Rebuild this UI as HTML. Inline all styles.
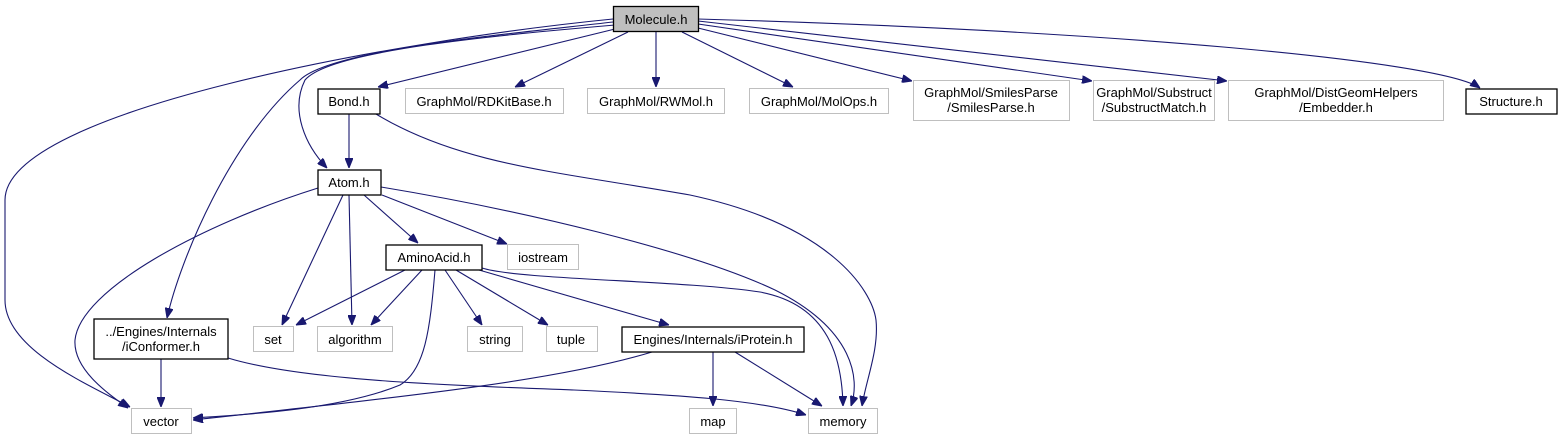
<!DOCTYPE html>
<html><head><meta charset="utf-8"><style>
html,body{margin:0;padding:0;background:#fff;}
svg{display:block;}
text{font-family:"Liberation Sans",sans-serif;font-size:13px;fill:#000;text-anchor:middle;}
.b{fill:#fff;stroke:#000;stroke-width:1.3;}
.g{fill:#fff;stroke:#bfbfbf;stroke-width:1;}
.e{fill:none;stroke:#191970;stroke-width:1.1;}
</style></head><body>
<svg width="1559" height="440" viewBox="0 0 1559 440" xmlns="http://www.w3.org/2000/svg">
<defs><marker id="a" markerWidth="10" markerHeight="8" refX="10" refY="4" orient="auto" markerUnits="userSpaceOnUse"><path d="M0,0 L10,4 L0,8 z" fill="#191970" stroke="#191970"/></marker></defs>
<g marker-end="url(#a)">
<path class="e" d="M613,19 C400,40 5,110 5,200 L5,300 C5,350 90,385 130,407"/>
<path class="e" d="M613,22 C500,35 330,50 300,80 C230,140 180,260 167,318"/>
<path class="e" d="M615,25 C500,35 330,50 305,80 C290,110 305,145 327,168"/>
<path class="e" d="M615,29 L378,87"/>
<path class="e" d="M628,32 L515,87"/>
<path class="e" d="M656,32 L656,87"/>
<path class="e" d="M682,32 L793,87"/>
<path class="e" d="M698,28 L912,81"/>
<path class="e" d="M698,24 L1092,81"/>
<path class="e" d="M698,21 L1227,81"/>
<path class="e" d="M698,19 C1100,30 1440,60 1480,88"/>
<path class="e" d="M349,114 L349,168"/>
<path class="e" d="M376,114 C460,165 560,172 690,195 C830,225 872,290 876,320 C879,350 866,380 862,406"/>
<path class="e" d="M318,188 C200,225 80,290 75,340 C73,370 110,395 128,408"/>
<path class="e" d="M343,195 L282,325"/>
<path class="e" d="M349,195 L352,325"/>
<path class="e" d="M364,195 L418,243"/>
<path class="e" d="M382,195 L507,244"/>
<path class="e" d="M381,187 C520,210 690,250 775,290 C855,330 860,380 851,406"/>
<path class="e" d="M405,270 L296,325"/>
<path class="e" d="M422,270 L371,325"/>
<path class="e" d="M435,270 C430,330 425,370 400,385 C340,410 240,415 193,418"/>
<path class="e" d="M445,270 L482,325"/>
<path class="e" d="M456,270 L548,325"/>
<path class="e" d="M479,270 L669,325"/>
<path class="e" d="M482,268 C520,280 680,280 760,292 C830,305 842,360 843,406"/>
<path class="e" d="M161,359 L161,407"/>
<path class="e" d="M228,358 C300,380 440,385 574,390 C680,395 760,400 806,415"/>
<path class="e" d="M652,352 C560,380 420,395 193,420"/>
<path class="e" d="M713,352 L713,406"/>
<path class="e" d="M735,352 L822,406"/>
</g>
<rect x="613.5" y="6.5" width="85" height="25" fill="#bfbfbf" stroke="#000" stroke-width="1.3"/><text x="656" y="24">Molecule.h</text>
<rect class="b" x="318" y="89" width="62" height="25"/><text x="349" y="106">Bond.h</text>
<rect class="g" x="405.5" y="88.5" width="158" height="25"/><text x="484" y="106">GraphMol/RDKitBase.h</text>
<rect class="g" x="587.5" y="88.5" width="137" height="25"/><text x="656" y="106">GraphMol/RWMol.h</text>
<rect class="g" x="749.5" y="88.5" width="139" height="25"/><text x="819" y="106">GraphMol/MolOps.h</text>
<rect class="g" x="913.5" y="80.5" width="156" height="40"/><text x="991" y="97">GraphMol/SmilesParse</text><text x="991" y="112">/SmilesParse.h</text>
<rect class="g" x="1093.5" y="80.5" width="121" height="40"/><text x="1154" y="97">GraphMol/Substruct</text><text x="1154" y="112">/SubstructMatch.h</text>
<rect class="g" x="1228.5" y="80.5" width="215" height="40"/><text x="1336" y="97">GraphMol/DistGeomHelpers</text><text x="1336" y="112">/Embedder.h</text>
<rect class="b" x="1466" y="89" width="91" height="25"/><text x="1511" y="106">Structure.h</text>
<rect class="b" x="318" y="170" width="63" height="25"/><text x="349" y="187">Atom.h</text>
<rect class="b" x="386" y="245" width="96" height="25"/><text x="434" y="262">AminoAcid.h</text>
<rect class="g" x="507.5" y="244.5" width="71" height="25"/><text x="543" y="262">iostream</text>
<rect class="b" x="94" y="319" width="134" height="40"/><text x="161" y="336">../Engines/Internals</text><text x="161" y="351">/iConformer.h</text>
<rect class="g" x="253.5" y="326.5" width="40" height="25"/><text x="273" y="344">set</text>
<rect class="g" x="317.5" y="326.5" width="75" height="25"/><text x="355" y="344">algorithm</text>
<rect class="g" x="467.5" y="326.5" width="55" height="25"/><text x="495" y="344">string</text>
<rect class="g" x="546.5" y="326.5" width="51" height="25"/><text x="571" y="344">tuple</text>
<rect class="b" x="622" y="327" width="182" height="25"/><text x="713" y="344">Engines/Internals/iProtein.h</text>
<rect class="g" x="131.5" y="408.5" width="60" height="25"/><text x="161" y="426">vector</text>
<rect class="g" x="689.5" y="408.5" width="47" height="25"/><text x="713" y="426">map</text>
<rect class="g" x="808.5" y="408.5" width="69" height="25"/><text x="843" y="426">memory</text>
</svg>
</body></html>
